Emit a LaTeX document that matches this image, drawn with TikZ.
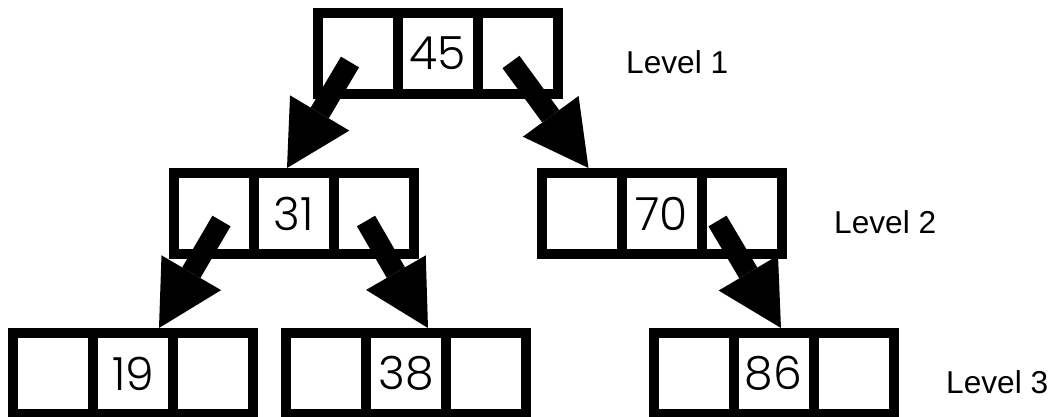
\documentclass[tikz,border=0pt]{standalone}
\usepackage{fontspec}
\setmainfont{Liberation Sans}
\newfontfamily\numfont{Poppins}[UprightFont={* Light}]
\usetikzlibrary{arrows.meta, positioning}

\begin{document}
\begin{tikzpicture}
    \tikzstyle{cellbox}=[draw, line width=0.2cm, minimum width=1.6cm, minimum height=1.62cm, inner sep=0pt, rectangle, font=\numfont\fontsize{26}{26}\selectfont]
    \tikzstyle{levellabel}=[anchor=base west, font=\fontsize{18}{18}\selectfont]
    \tikzstyle{fatarrow}=[line width=0.42cm, -{Triangle[width=1.38cm, length=1.28cm, line width=0pt]}]

    \useasboundingbox (0, 0) rectangle (21, -8.34);

    % Level 1
    \node[cellbox] (n45) at (8.76, -1.07) {45};
    \node[cellbox, left=-0.2cm of n45] (n45_l) {};
    \node[cellbox, right=-0.2cm of n45] (n45_r) {};

    % Level 2
    \node[cellbox] (n31) at (5.88, -4.27) {31};
    \node[cellbox, left=-0.2cm of n31] (n31_l) {};
    \node[cellbox, right=-0.2cm of n31] (n31_r) {};

    \node[cellbox] (n70) at (13.23, -4.27) {70};
    \node[cellbox, left=-0.2cm of n70] (n70_l) {};
    \node[cellbox, right=-0.2cm of n70] (n70_r) {};

    % Level 3
    \node[cellbox] (n19) at (2.66, -7.47) {19};
    \node[cellbox, left=-0.2cm of n19] (n19_l) {};
    \node[cellbox, right=-0.2cm of n19] (n19_r) {};

    \node[cellbox] (n38) at (8.12, -7.47) {38};
    \node[cellbox, left=-0.2cm of n38] (n38_l) {};
    \node[cellbox, right=-0.2cm of n38] (n38_r) {};

    \node[cellbox] (n86) at (15.47, -7.47) {86};
    \node[cellbox, left=-0.2cm of n86] (n86_l) {};
    \node[cellbox, right=-0.2cm of n86] (n86_r) {};

    % Child pointers
    \draw[fatarrow] ([shift={(-0.16,-0.17)}]n45_l.center) -- ([xshift=-0.14cm]n31.north);
    \draw[fatarrow] ([shift={(-0.14,-0.17)}]n45_r.center) -- ([xshift=0.14cm]n70_l.north);
    \draw[fatarrow] ([shift={(0.15,-0.15)}]n31_l.center) -- ([xshift=0.52cm]n19.north);
    \draw[fatarrow] ([shift={(-0.16,-0.15)}]n31_r.center) -- ([xshift=0.44cm]n38.north);
    \draw[fatarrow] ([shift={(-0.48,-0.15)}]n70_r.center) -- ([xshift=0.15cm]n86.north);

    % Levels
    \node[levellabel] (lvl1) at (12.4, -1.46) {Level 1};
    \node[levellabel] (lvl2) at (16.56, -4.66) {Level 2};
    \node[levellabel] (lvl3) at (18.8, -7.86) {Level 3};
\end{tikzpicture}
\end{document}
